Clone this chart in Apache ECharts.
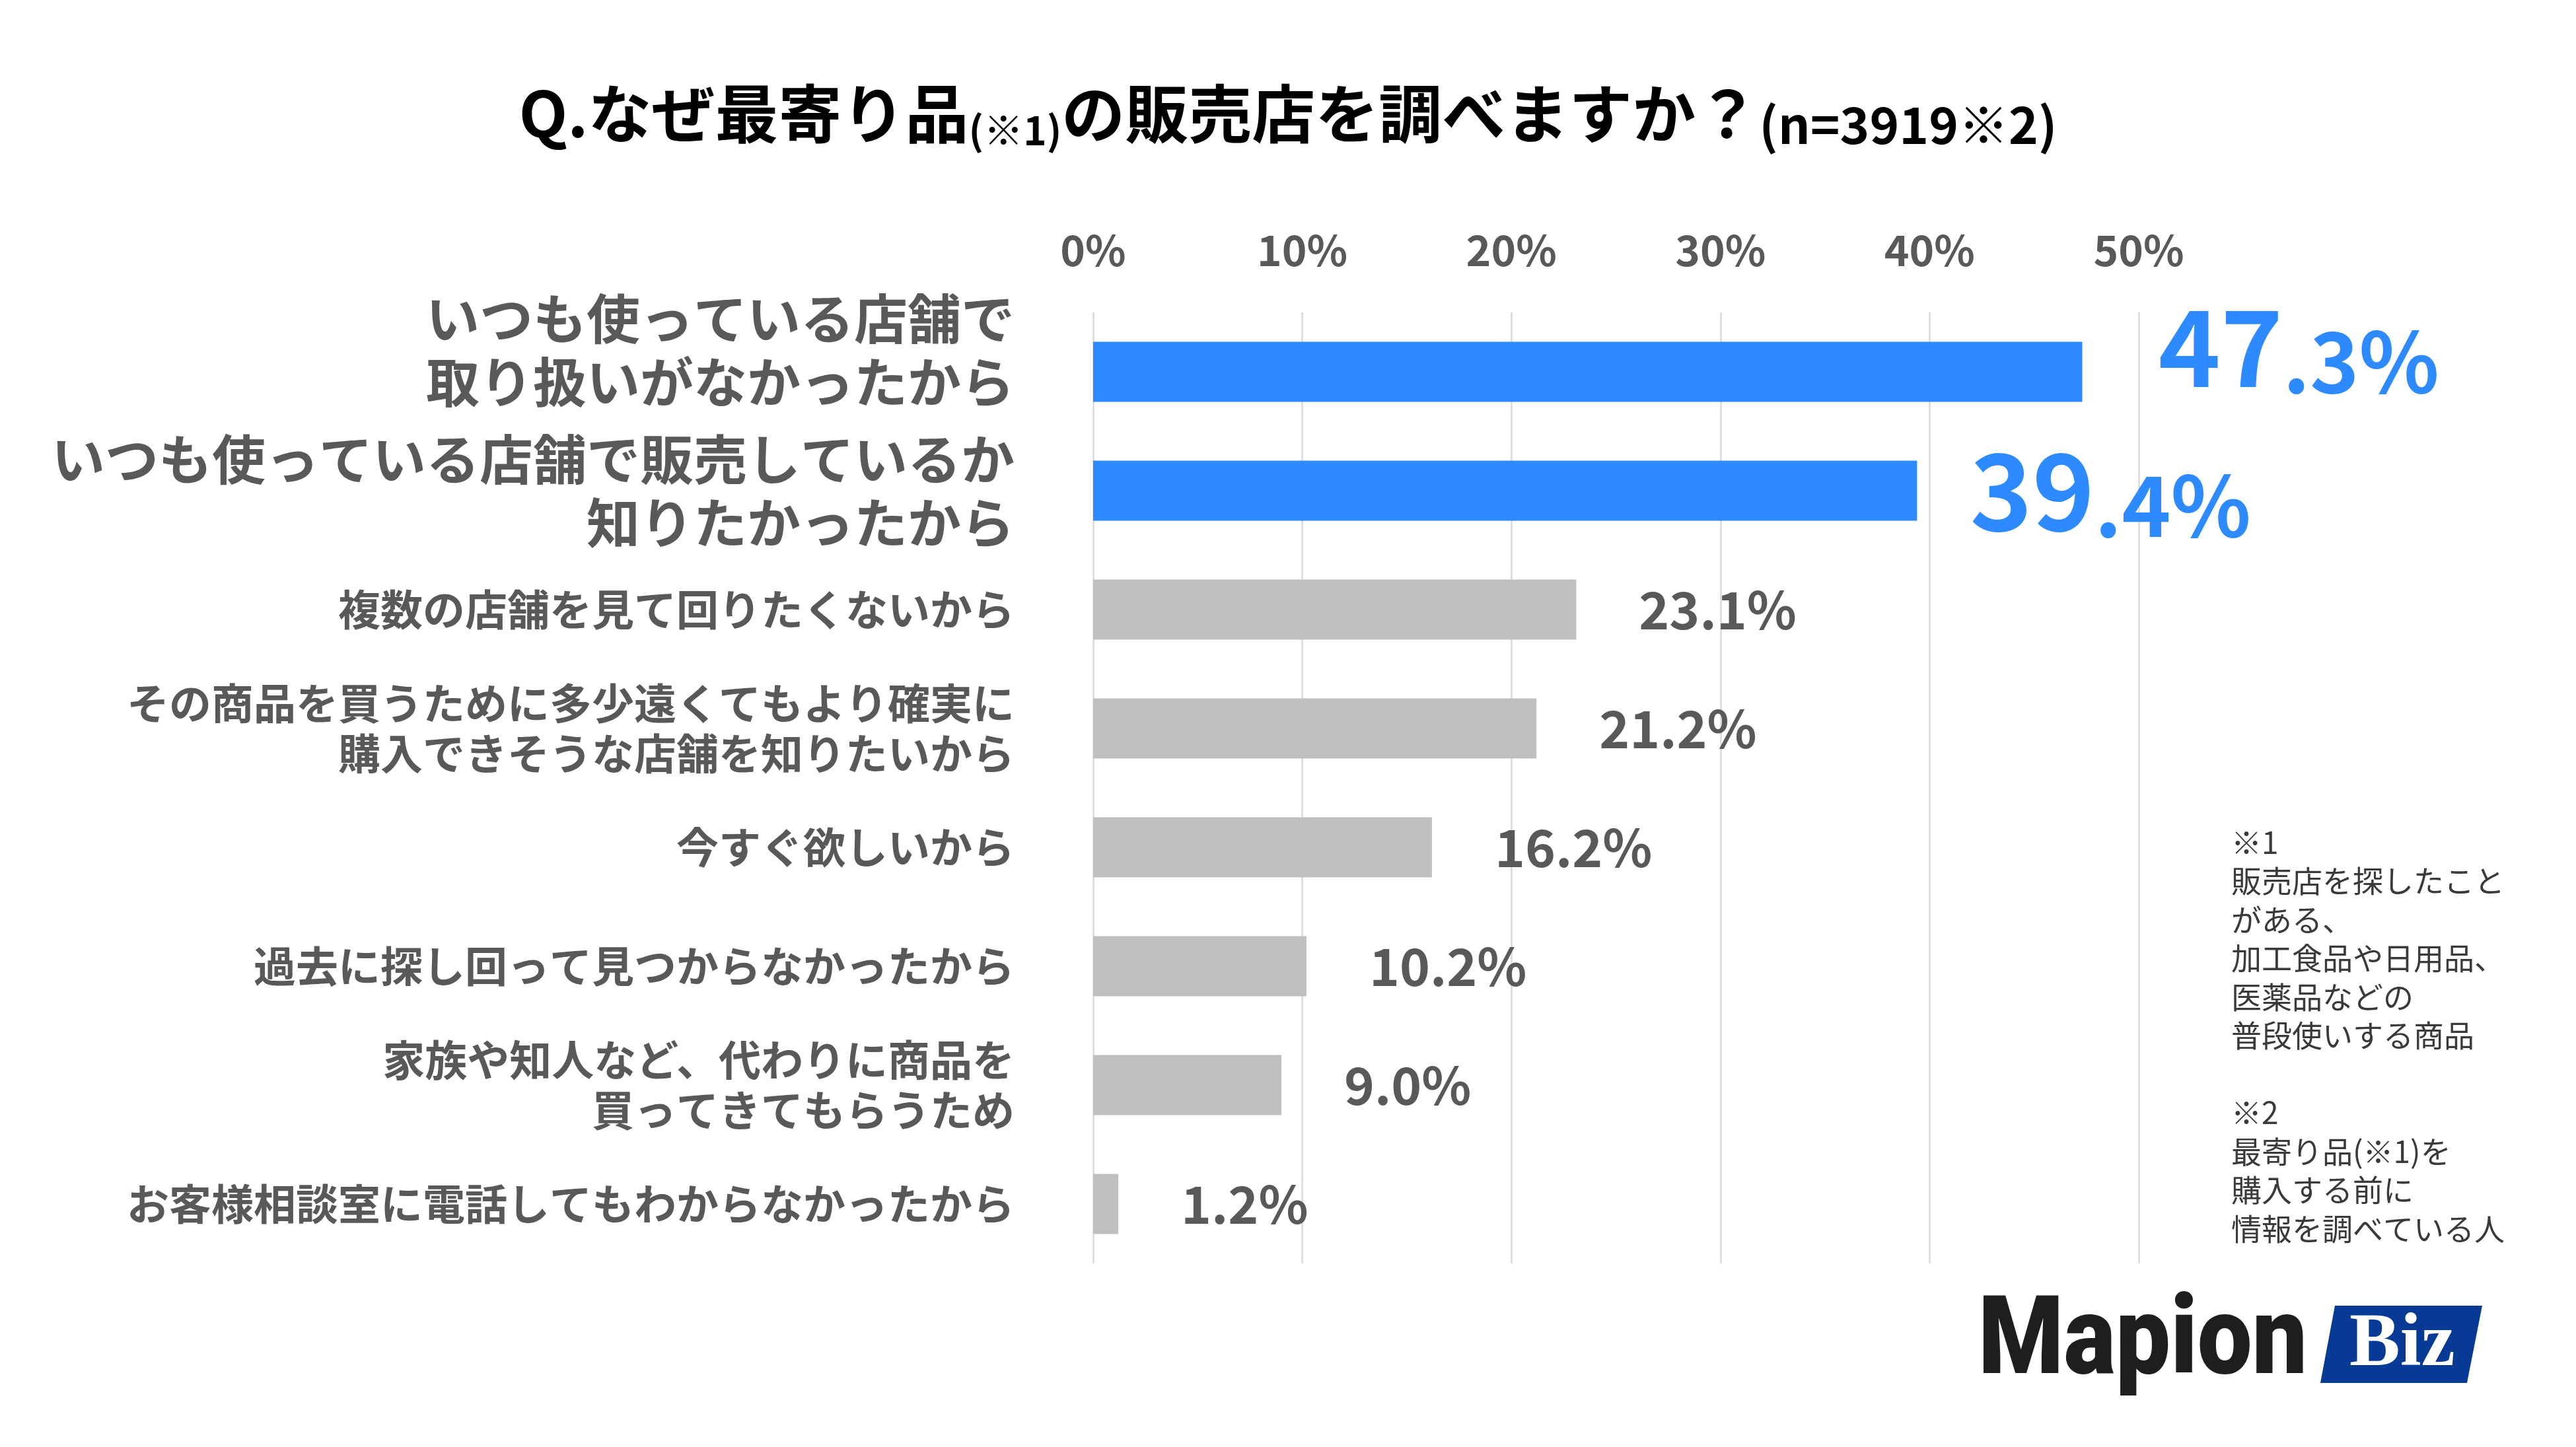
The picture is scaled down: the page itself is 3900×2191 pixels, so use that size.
<!DOCTYPE html>
<html>
<head>
<meta charset="utf-8">
<script src="https://cdn.jsdelivr.net/npm/echarts@6/dist/echarts.min.js"></script>
<style>
html,body{margin:0;padding:0;background:#fff;}
#c{width:3900px;height:2191px;}
</style>
</head>
<body>
<div id="c"></div>
<script>
const categories = [
  'いつも使っている店舗で\n取り扱いがなかったから',
  'いつも使っている店舗で販売しているか\n知りたかったから',
  '複数の店舗を見て回りたくないから',
  'その商品を買うために多少遠くてもより確実に\n購入できそうな店舗を知りたいから',
  '今すぐ欲しいから',
  '過去に探し回って見つからなかったから',
  '家族や知人など、代わりに商品を\n買ってきてもらうため',
  'お客様相談室に電話してもわからなかったから'
];
const values = [47.3, 39.4, 23.1, 21.2, 16.2, 10.2, 9.0, 1.2];
const axisMin = 0, axisMax = 50, axisStep = 10;
const titleParts = ['Q.なぜ最寄り品', '(※1)', 'の販売店を調べますか？', '(n=3919※2)'];
const noteLines = [
  '※1', '販売店を探したこと', 'がある、', '加工食品や日用品、', '医薬品などの', '普段使いする商品',
  '', '※2', '最寄り品(※1)を', '購入する前に', '情報を調べている人'
];

const BLUE = '#2E8BFF', GRAY = '#BFBFBF', TXT = '#595959';
const FONT = '"Noto Sans CJK JP", "Noto Sans", sans-serif';

const chart = echarts.init(document.getElementById('c'), null, {renderer: 'canvas', devicePixelRatio: 1});

const seriesData = values.map((v, i) => {
  const d = {value: v, itemStyle: {color: i < 2 ? BLUE : GRAY}};
  if (i === 0) d.label = {offset: [20, -38]};
  if (i === 1) d.label = {offset: [-15, 0]};
  return d;
});

chart.setOption({
  backgroundColor: '#fff',
  textStyle: {fontFamily: FONT},
  title: {
    left: 'center',
    top: 112,
    text: '{a|' + titleParts[0] + '}{b|' + titleParts[1] + '}{a|' + titleParts[2] + '}{c|' + titleParts[3] + '}',
    textStyle: {
      rich: {
        a: {fontSize: 96, lineHeight: 110, fontWeight: 'bold', color: '#000', fontFamily: FONT},
        b: {fontSize: 60, lineHeight: 86, fontWeight: 'bold', color: '#000', fontFamily: FONT, verticalAlign: 'bottom'},
        c: {fontSize: 76, lineHeight: 96, fontWeight: 'bold', color: '#000', fontFamily: FONT, verticalAlign: 'bottom'}
      }
    }
  },
  grid: {left: 1655, right: 662, top: 473, bottom: 278, containLabel: false},
  xAxis: {
    type: 'value',
    position: 'top',
    min: axisMin, max: axisMax, interval: axisStep,
    axisLine: {show: false},
    axisTick: {show: false},
    splitLine: {show: true, lineStyle: {color: '#D9D9D9', width: 2.5}},
    axisLabel: {
      formatter: '{value}%',
      color: TXT, fontSize: 64, fontWeight: 'bold', fontFamily: FONT, margin: 62
    }
  },
  yAxis: {
    type: 'category',
    inverse: true,
    data: categories,
    axisLine: {show: false},
    axisTick: {show: false},
    splitLine: {show: false},
    axisLabel: {
      interval: 0,
      hideOverlap: false,
      color: TXT, fontSize: 64, lineHeight: 76, fontWeight: 'bold', fontFamily: FONT,
      margin: 119, align: 'right',
      formatter: function (value, index) {
        if (index < 2) {
          const lines = value.split('\n').map(l => '{L|' + l + '}');
          if (index === 0) lines.push('{S| }');
          return lines.join('\n');
        }
        return value;
      },
      rich: {
        L: {fontSize: 81, lineHeight: 96, fontWeight: 'bold', color: TXT, fontFamily: FONT, align: 'right'},
        S: {fontSize: 10, lineHeight: 66, color: TXT, align: 'right'}
      }
    }
  },
  series: [{
    type: 'bar',
    data: seriesData,
    barWidth: 91,
    silent: true,
    label: {
      show: true,
      position: 'right',
      distance: 95,
      formatter: function (p) {
        const s = Number(p.value).toFixed(1);
        if (p.dataIndex < 2) {
          const parts = s.split('.');
          return '{big|' + parts[0] + '}{mid|.' + parts[1] + '%}';
        }
        return '{g|' + s + '%}';
      },
      rich: {
        big: {fontSize: 160, lineHeight: 170, fontWeight: 'bold', color: BLUE, fontFamily: FONT},
        mid: {fontSize: 126, lineHeight: 143, fontWeight: 'bold', color: BLUE, fontFamily: FONT, verticalAlign: 'bottom'},
        g: {fontSize: 78, lineHeight: 96, fontWeight: 'bold', color: TXT, fontFamily: FONT}
      }
    }
  }],
  graphic: [
    {
      type: 'text',
      left: 3378, top: 1246,
      style: {
        text: noteLines.join('\n'),
        fontSize: 46, lineHeight: 58.5,
        fontFamily: FONT, fontWeight: 'normal',
        fill: '#3A3A3A'
      }
    },
    {
      type: 'text',
      x: 2995, y: 2037,
      scaleX: 0.89,
      style: {
        text: 'Mapion',
        fontSize: 166, fontWeight: 900,
        fontFamily: 'Roboto, "Open Sans", sans-serif',
        fill: '#1E1E1E',
        verticalAlign: 'middle', align: 'left'
      }
    },
    {
      type: 'polygon',
      shape: {points: [[3535, 1977], [3758, 1977], [3735, 2094], [3513, 2094]]},
      style: {fill: '#063A94'}
    },
    {
      type: 'text',
      x: 3557, y: 2037,
      style: {
        text: 'Biz',
        fontSize: 115, fontWeight: 'bold',
        fontFamily: '"Liberation Serif", "DejaVu Serif", serif',
        fill: '#fff',
        verticalAlign: 'middle', align: 'left'
      }
    }
  ]
});
</script>
</body>
</html>
